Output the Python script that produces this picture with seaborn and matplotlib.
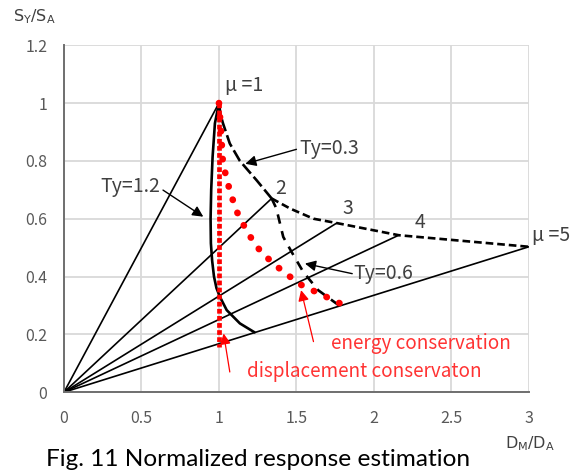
import matplotlib
matplotlib.use("Agg")
import matplotlib.pyplot as plt
import seaborn as sns
import pandas as pd

# ductility rays (origin -> end point)
mu_labels = ["μ =1", "2", "3", "4", "μ =5"]
ray_x = [1.0, 1.34, 1.76, 2.16, 3.0]
ray_y = [1.0, 0.67, 0.585, 0.543, 0.503]

# Ty=0.3 curve
ty03_x = [1.0, 1.01, 1.026, 1.07, 1.135, 1.243, 1.34]
ty03_y = [1.0, 0.96, 0.93, 0.86, 0.80, 0.733, 0.67]
ty03b_x = [1.34, 1.46, 1.61, 1.76, 2.16, 3.0]
ty03b_y = [0.67, 0.635, 0.60, 0.585, 0.543, 0.503]

# Ty=0.6 curve
ty06_x = [1.34, 1.37, 1.415, 1.469, 1.544, 1.64, 1.78]
ty06_y = [0.67, 0.636, 0.537, 0.485, 0.416, 0.353, 0.298]

# Ty=1.2 curve
ty12_x = [1.0, 0.974, 0.959, 0.95, 0.946, 0.948, 0.956, 0.968, 0.984, 1.006, 1.05, 1.135, 1.23]
ty12_y = [1.0, 0.93, 0.814, 0.70, 0.60, 0.515, 0.455, 0.40, 0.36, 0.33, 0.284, 0.238, 0.207]

# energy conservation
en_x = [1.0, 1.01, 1.026, 1.066, 1.11, 1.185, 1.275, 1.39, 1.52, 1.656, 1.79]
en_y = [1.0, 0.93, 0.79, 0.705, 0.63, 0.551, 0.482, 0.428, 0.374, 0.339, 0.305]

# displacement conservation
dp_x = [1.0, 1.0]
dp_y = [1.0, 0.157]

x_ticks = [0, 0.5, 1, 1.5, 2, 2.5, 3]
y_ticks = [0, 0.2, 0.4, 0.6, 0.8, 1.0, 1.2]
x_tick_labels = ["0", "0.5", "1", "1.5", "2", "2.5", "3"]
y_tick_labels = ["0", "0.2", "0.4", "0.6", "0.8", "1", "1.2"]

sns.set_theme(style="whitegrid")
plt.rcParams['font.family'] = ['Noto Sans CJK JP', 'DejaVu Sans']

fig = plt.figure(figsize=(5.87, 4.76), dpi=100)
ax = fig.add_axes([0.109, 0.176, 0.792, 0.729])


def curve(xs, ys, **kw):
    d = pd.DataFrame({"x": xs, "y": ys})
    sns.lineplot(data=d, x="x", y="y", ax=ax, sort=False, estimator=None, **kw)
    return ax.lines[-1]


# rays
for ex, ey in zip(ray_x, ray_y):
    curve([0, ex], [0, ey], color="black", lw=1.2)

ln = curve(ty12_x, ty12_y, color="black", lw=1.9)
ln.set_solid_joinstyle("round")
curve(ty03_x, ty03_y, color="black", lw=1.9, dashes=(4.7, 1.6))
curve(ty03b_x, ty03b_y, color="black", lw=1.9, dashes=(2.9, 1.5))
curve(ty06_x, ty06_y, color="black", lw=1.9, dashes=(3.6, 2.9))
ln = curve(dp_x, dp_y, color="#ff0000", lw=3.4, dashes=(1, 0.5))
ln.set_dash_capstyle("butt")
ln = curve(en_x, en_y, color="#ff0000", lw=4.8, dashes=(0.05, 2.05))
ln.set_dash_capstyle("round")

ax.set_xlim(0, 3)
ax.set_ylim(0, 1.2)
ax.set_xticks(x_ticks)
ax.set_xticklabels(x_tick_labels)
ax.set_yticks(y_ticks)
ax.set_yticklabels(y_tick_labels)
ax.set_xlabel("")
ax.set_ylabel("")
ax.grid(True, color="#d9d9d9", lw=1.3)
ax.tick_params(axis="both", colors="#595959", labelsize=11.5, length=0)
ax.tick_params(axis="x", pad=13)
ax.tick_params(axis="y", pad=12)
for s in ["top", "right"]:
    ax.spines[s].set_visible(False)
for s in ["left", "bottom"]:
    ax.spines[s].set_color("#6f6f6f")
    ax.spines[s].set_linewidth(1.4)
ax.set_facecolor("white")

tfs = 14
tc = "#404040"
ax.text(1.04, 1.06, mu_labels[0], fontsize=tfs, color=tc, va="center", ha="left")
ax.text(1.36, 0.705, mu_labels[1], fontsize=tfs, color=tc, va="center", ha="left")
ax.text(1.80, 0.636, mu_labels[2], fontsize=tfs, color=tc, va="center", ha="left")
ax.text(2.26, 0.586, mu_labels[3], fontsize=tfs, color=tc, va="center", ha="left")
ax.text(3.02, 0.543, mu_labels[4], fontsize=tfs, color=tc, va="center", ha="left", clip_on=False)

ap = dict(arrowstyle="-|>", color="black", lw=1.0, mutation_scale=16, shrinkA=0, shrinkB=0)
ax.annotate("", xy=(0.899, 0.607), xytext=(0.639, 0.699), arrowprops=ap)
ax.text(0.62, 0.712, "Ty=1.2", fontsize=tfs, color=tc, ha="right", va="center")
ax.annotate("", xy=(1.17, 0.79), xytext=(1.50, 0.84), arrowprops=ap)
ax.text(1.52, 0.844, "Ty=0.3", fontsize=tfs, color=tc, ha="left", va="center")
ax.annotate("", xy=(1.555, 0.445), xytext=(1.86, 0.41), arrowprops=ap)
ax.text(1.87, 0.41, "Ty=0.6", fontsize=tfs, color=tc, ha="left", va="center")

apr = dict(arrowstyle="-|>", color="#ff0000", lw=0.9, mutation_scale=16, shrinkA=0, shrinkB=0)
rfs = 13.6
ax.annotate("", xy=(1.53, 0.353), xytext=(1.61, 0.175), arrowprops=apr)
ax.text(1.72, 0.168, "energy conservation", fontsize=rfs, color="#ff3333", ha="left", va="center")
ax.annotate("", xy=(1.03, 0.203), xytext=(1.07, 0.07), arrowprops=apr)
ax.text(1.18, 0.07, "displacement conservaton", fontsize=rfs, color="#ff3333", ha="left", va="center")

# axis titles
fig.text(0.022, 0.965, r"S$_\mathregular{Y}$/S$_\mathregular{A}$", fontsize=11.5, color=tc,
         ha="left", va="center", family="DejaVu Sans")
fig.text(0.903, 0.069, r"D$_\mathregular{M}$/D$_\mathregular{A}$", fontsize=11.5, color=tc,
         ha="center", va="center", family="DejaVu Sans")
fig.text(0.44, 0.013, "Fig. 11 Normalized response estimation", fontsize=17.6, color="black",
         ha="center", va="bottom", family="Lato")

fig.savefig("out.png", dpi=100)
